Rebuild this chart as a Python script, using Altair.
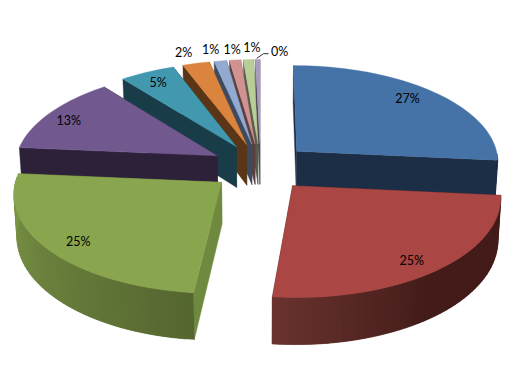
import math
import altair as alt

# Shares of the pie, in per cent, clockwise from 12 o'clock
values = [26.5, 25.15, 24.75, 12.9, 4.9, 2.4, 1.1, 1.0, 0.9, 0.4]
top_colors = ["#4572A7", "#AA4643", "#89A54E", "#71588F", "#4198AF",
              "#DB843D", "#93A9CF", "#D19392", "#B9CD96", "#A99BBD"]
wall_colors = ["#1B2E45", "#431C19", "#6F8A3F", "#2C2138", "#183C48",
               "#5A3516", "#3C4B60", "#5C3F3E", "#54604A", "#4C4558"]
label_radius = [0.85, 0.86, 0.85, 0.87, 0.87, 1.175, 1.177, 1.158, 1.166, 1.126]
label_turn = [-3.0, 1.6, -1.0, -1.4, 0.0, -1.2, -1.3, 0.0, 1.3, 6.3]

# Outer wall shading (angle, colour)
outer_shades = {
    1: [(95.4, "#431C19"), (145.0, "#431C19"), (186.0, "#6A332F")],
    2: [(186.0, "#556630"), (275.0, "#7E9848")],
}

# The tilted view of the pie
CX, CY = 252.5, 159.0
RX, RY = 203.0, 97.0
PERSP = 0.098
EXPLODE = 0.245
DEPTH = 41.5
CONVERGE = 0.988
STEP = 2.0


def project(X, d, low=False):
    w = 1 - PERSP * d
    x = RX * X / w
    y = RY * d / w
    if low:
        return [CX + x * CONVERGE, CY + y + DEPTH / w]
    return [CX + x, CY + y]


def hex2rgb(c):
    return [int(c[i:i + 2], 16) for i in (1, 3, 5)]


def shade(stops, a):
    for (a0, c0), (a1, c1) in zip(stops, stops[1:]):
        if a <= a1:
            t = max(0.0, (a - a0) / (a1 - a0))
            p, q = hex2rgb(c0), hex2rgb(c1)
            return "#%02x%02x%02x" % tuple(round(u + (v - u) * t) for u, v in zip(p, q))
    return stops[-1][1]


def feature(ring, fill):
    return {"type": "Feature", "properties": {"fill": fill},
            "geometry": {"type": "Polygon", "coordinates": [ring + [ring[0]]]}}


total = sum(values)
spans, cum = [], 0.0
for v in values:
    spans.append((cum, cum + v / total * 360))
    cum += v / total * 360


def world(i, angle, r):
    a0, a1 = spans[i]
    mid = math.radians((a0 + a1) / 2)
    t = math.radians(angle)
    return (EXPLODE * math.sin(mid) + r * math.sin(t),
            -EXPLODE * math.cos(mid) - r * math.cos(t))


features = []
for i in [9, 8, 7, 6, 5, 4, 3, 0, 2, 1]:
    a0, a1 = spans[i]
    n = max(2, int(math.ceil((a1 - a0) / STEP)))
    angles = [a0 + (a1 - a0) * j / n for j in range(n + 1)]
    apex = world(i, a0, 0)
    stops = outer_shades.get(i)
    for edge in (a0, a1):
        we = world(i, edge, 1)
        features.append(feature([project(*apex), project(*we),
                                 project(*we, low=True), project(*apex, low=True)], wall_colors[i]))
    # each band runs on under the next, so no seam shows between them
    for j in range(n):
        if not 90 <= angles[j] <= 270:
            continue  # the back of the rim faces away from the viewer
        p, q = angles[j], angles[min(j + 2, n)]
        fill = shade(stops, (angles[j] + angles[j + 1]) / 2) if stops else wall_colors[i]
        wp, wq = world(i, p, 1), world(i, q, 1)
        features.append(feature([project(*wp), project(*wq),
                                 project(*wq, low=True), project(*wp, low=True)], fill))
    features.append(feature([project(*apex)] + [project(*world(i, a, 1)) for a in angles], top_colors[i]))

labels = []
for i, v in enumerate(values):
    a = (spans[i][0] + spans[i][1]) / 2 + label_turn[i]
    px, py = project(*world(i, a, label_radius[i]))
    labels.append({"lon": px, "lat": py + 1.5, "text": f"{int(v + 0.5)}%"})

tip = project(*world(9, (spans[9][0] + spans[9][1]) / 2, 1.0))
lab = labels[9]
leader = {"type": "Feature", "properties": {},
          "geometry": {"type": "LineString",
                       "coordinates": [[tip[0] - 1, tip[1] - 1],
                                       [lab["lon"] - 16, lab["lat"] + 2],
                                       [lab["lon"] - 11, lab["lat"] + 2]]}}

slices = alt.Chart(alt.InlineData(values={"type": "FeatureCollection", "features": features},
                                  format=alt.DataFormat(property="features", type="json"))
                   ).mark_geoshape(strokeWidth=0.4).encode(
    fill=alt.Fill("properties.fill:N", scale=None),
    stroke=alt.Stroke("properties.fill:N", scale=None),
)
line = alt.Chart(alt.InlineData(values={"type": "FeatureCollection", "features": [leader]},
                                format=alt.DataFormat(property="features", type="json"))
                 ).mark_geoshape(filled=False, stroke="#333333", strokeWidth=1)
text = alt.Chart(alt.Data(values=labels)).mark_text(
    font="Lato", fontSize=12.5, color="#000000", align="center", baseline="middle"
).encode(longitude="lon:Q", latitude="lat:Q", text="text:N")

chart = alt.layer(slices, line, text).project(
    type="identity", scale=1, translate=[0, 0]
).properties(width=504, height=371, padding=0, autosize="none", background="#ffffff"
).configure_view(stroke=None)

chart.save("out.html", embed_options={"renderer": "svg", "actions": False})
